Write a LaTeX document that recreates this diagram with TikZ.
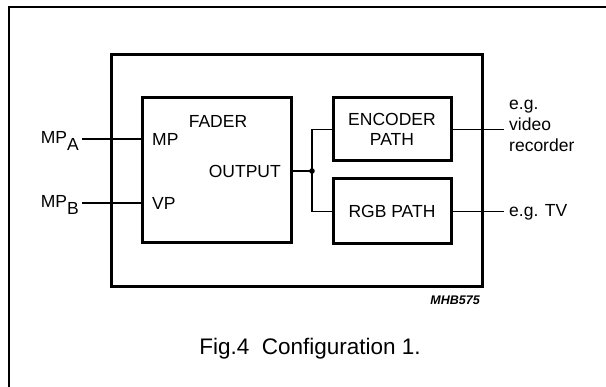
\documentclass[tikz,border=0pt]{standalone}
\usepackage{fontspec}
\setmainfont{Liberation Sans}
\usetikzlibrary{calc,positioning}

\begin{document}
\begin{tikzpicture}[x=1pt,y=-1pt,font=\fontsize{17.5}{21}\selectfont,
   blk/.style={draw,line width=3pt,inner sep=0pt,align=center},
   lbl/.style={inner sep=3pt},
   wire/.style={line width=1.6pt}]
 \useasboundingbox (0,0) rectangle (606,387);
 \draw[line width=2pt] (8.5,390) -- (8.5,7.5) -- (610,7.5);
 \node[blk,minimum width=371,minimum height=232] (ic) at (296.5,171) {};
 \node[blk,minimum width=149,minimum height=145] (fader) at (216.5,170.5) {};
 \node[blk,minimum width=118,minimum height=63] (enc) at (392,129.5)
   {ENCODER\\[-1pt]PATH};
 \node[blk,minimum width=118,minimum height=65] (rgb) at (392,211.5) {RGB PATH};
 \node (fadername) at (218,121) {FADER};
 \node[lbl,anchor=west] (mp) at (149,139) {MP};
 \node[lbl,anchor=west] (vp) at (149,203) {VP};
 \node[lbl,anchor=east] (out) at (284,171) {OUTPUT};
 \node[lbl,anchor=base east] (mpa) at (82,143.5)
   {MP\raisebox{-7pt}{A}};
 \node[lbl,anchor=base east] (mpb) at (82,207.5)
   {MP\raisebox{-7pt}{B}};
 \draw[wire] (mpa.east |- mp.west) -- (fader.west |- mp.west);
 \draw[wire] (mpb.east |- vp.west) -- (fader.west |- vp.west);
 \coordinate (j) at (312,171);
 \draw[wire] (fader.east |- out) -- (j);
 \fill (j) circle (2.8pt);
 \draw[wire] (enc.west) -| (j) |- (rgb.west);
 \node[lbl,anchor=west,align=left] (vcr) at (506,126)
   {e.g.\\video\\recorder};
 \node[lbl,anchor=west] (tv) at (506,212) {e.g. TV};
 \draw[wire] (enc.east) -- ([xshift=-2pt]vcr.west |- enc.east);
 \draw[wire] (rgb.east) -- ([xshift=-2pt]tv.west |- rgb.east);
 \node[anchor=east,inner sep=0pt,font=\fontsize{12.5}{14}\selectfont\bfseries\itshape]
   (code) at (480,300) {MHB575};
 \node[font=\fontsize{22.5}{26}\selectfont] (caption) at (310,349)
   {Fig.4\ \ Configuration 1.};
\end{tikzpicture}
\end{document}
